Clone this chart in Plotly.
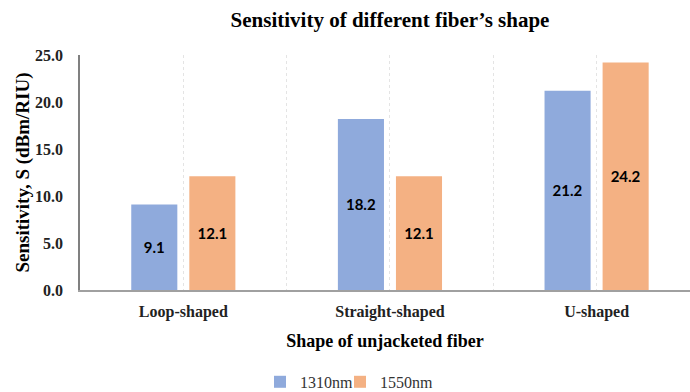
import plotly.graph_objects as go

categories = ["Loop-shaped", "Straight-shaped", "U-shaped"]
s1310 = [9.1, 18.2, 21.2]
s1550 = [12.1, 12.1, 24.2]
series_names = ["1310nm", "1550nm"]
colors = ["#8faadc", "#f4b183"]
ytick_vals = [0, 5, 10, 15, 20, 25]
ytick_text = ["0.0", "5.0", "10.0", "15.0", "20.0", "25.0"]

xpos = list(range(len(categories)))
serif = "Liberation Serif, Times New Roman, serif"
label_font = dict(family="Lato, Open Sans, sans-serif", size=15, color="black")

fig = go.Figure()
for vals, name, col, off, lg in [(s1310, series_names[0], colors[0], -0.252, "legend"),
                                 (s1550, series_names[1], colors[1], 0.029, "legend2")]:
    fig.add_trace(go.Bar(
        x=xpos, y=vals, name=name, marker=dict(color=col, line=dict(width=0)),
        width=0.223, offset=off, legend=lg,
        text=[f"<b>{v:.1f}</b>" for v in vals], textposition="inside",
        insidetextanchor="middle", textfont=label_font, textangle=0,
        cliponaxis=False,
    ))

legend_common = dict(orientation="h", y=-0.391, yanchor="middle", xanchor="left",
                     font=dict(family=serif, size=16, color="#333333"),
                     itemwidth=30, bgcolor="rgba(0,0,0,0)")

fig.update_layout(
    width=690, height=392,
    margin=dict(l=80, r=0, t=55, b=102, autoexpand=False),
    paper_bgcolor="white", plot_bgcolor="white",
    barmode="overlay",
    title=dict(text="<b>Sensitivity of different fiber’s shape</b>",
               x=390/690, xanchor="center", y=1 - 20/392, yanchor="middle",
               font=dict(family=serif, size=21, color="black")),
    showlegend=True,
    legend=dict(x=(260 - 80) / 610, **legend_common),
    legend2=dict(x=(340 - 80) / 610, **legend_common),
    uniformtext=dict(mode="show", minsize=10),
)
fig.update_xaxes(
    range=[-0.5, 2.452], tickvals=xpos, ticktext=[f"<b>{c}</b>" for c in categories],
    tickfont=dict(family=serif, size=16, color="#222222"),
    showgrid=True, gridcolor="#e4e4e4", gridwidth=1, griddash="dot",
    minor=dict(tickvals=[0.5, 1.5], showgrid=True, gridcolor="#e4e4e4", griddash="dot", ticklen=0),
    showline=True, linecolor="#a0a0a0", linewidth=1.5, ticks="", zeroline=False,
    ticklabelstandoff=6, automargin=False,
    title=dict(text="<b>Shape of unjacketed fiber</b>", font=dict(family=serif, size=18, color="black"), standoff=14),
)
fig.update_yaxes(
    range=[0, 25], tickvals=ytick_vals, ticktext=[f"<b>{t}</b>" for t in ytick_text],
    tickfont=dict(family=serif, size=16, color="#222222"),
    showgrid=False, zeroline=False, showline=True, linecolor="#808080", linewidth=1.5,
    ticks="", ticklabelstandoff=12, automargin=False,
    title=dict(text="<b>Sensitivity, S (dBm/RIU)</b>", font=dict(family=serif, size=19, color="black"), standoff=0),
)

fig.write_html("out.html")
